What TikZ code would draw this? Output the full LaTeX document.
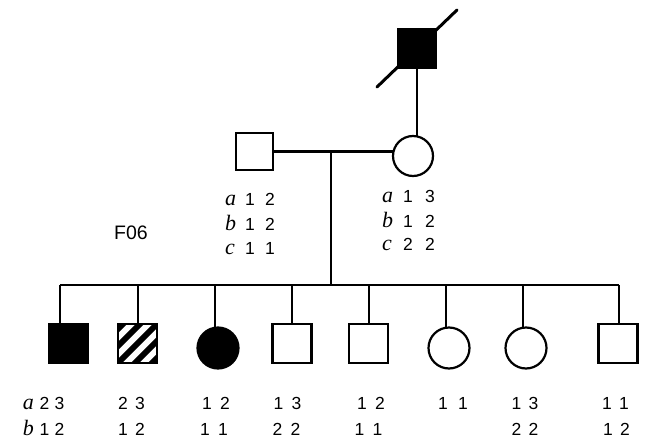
\documentclass[tikz,border=0pt]{standalone}
\usepackage{fontspec}
\setmainfont{Liberation Sans}
\newfontfamily\serifface{Liberation Serif}
\newcommand\glet[1]{\makebox[12pt][l]{\fontsize{22}{22}\selectfont\serifface\itshape #1}}
\newcommand\gpair[3][18pt]{\makebox[#1][c]{#2}\makebox[#1][c]{#3}}
\begin{document}
\begin{tikzpicture}[x=1pt,y=-1pt,
  lw/.style={line width=2.2pt},
  sq/.style={draw,rectangle,minimum size=39pt,inner sep=0pt,outer sep=0pt,line width=2.2pt},
  ci/.style={draw,circle,minimum size=41pt,inner sep=0pt,outer sep=0pt,line width=2.2pt},
  gt/.style={inner sep=0pt,outer sep=0pt,font=\fontsize{17.5}{17.5}\selectfont},
  affected/.style={fill=black}]
\useasboundingbox (0,0) rectangle (645,439);

% generation I
\node[sq,affected,minimum size=38pt] (gf) at (417,48.5) {};
\coordinate (sl1) at (377,87);
\coordinate (sl2) at (457,10);
\draw[line width=3pt,line cap=round] (sl1) -- (sl2);

% generation II
\node[sq,minimum size=37.5pt] (fa) at (254.5,151.5) {};
\node[ci,minimum size=40pt] (mo) at (413,156) {};
\draw[lw] (gf.south) -- (gf.south |- mo.north);
\draw[lw] (fa.east) -- (fa.east -| mo.west);
\coordinate (m) at (331,152);
\coordinate (s) at (331,285);
\draw[lw] (m) -- (s);

% parents' genotypes
\node[gt,anchor=base west] (fa1) at (225,205) {\glet{a}\hspace{3pt}\gpair[20pt]{1}{2}};
\node[gt,anchor=base west] (fa2) at (225,230) {\glet{b}\hspace{3pt}\gpair[20pt]{1}{2}};
\node[gt,anchor=base west] (fa3) at (225,254) {\glet{c}\hspace{3pt}\gpair[20pt]{1}{1}};
\node[gt,anchor=base west] (mo1) at (382,202) {\glet{a}\hspace{3pt}\gpair[22pt]{1}{3}};
\node[gt,anchor=base west] (mo2) at (382,227) {\glet{b}\hspace{3pt}\gpair[22pt]{1}{2}};
\node[gt,anchor=base west] (mo3) at (382,250) {\glet{c}\hspace{3pt}\gpair[22pt]{2}{2}};

\node[inner sep=0pt,anchor=base west,font=\fontsize{19.5}{19.5}\selectfont] (fam) at (114,239) {F06};

% sibship
\coordinate (d1) at (60,285);
\coordinate (d2) at (138,285);
\coordinate (d3) at (215,285);
\coordinate (d4) at (292,285);
\coordinate (d5) at (369,285);
\coordinate (d6) at (446,285);
\coordinate (d7) at (523,285);
\coordinate (d8) at (619,285);
\draw[lw] (d1) -- (d8);

% generation III
\node[sq,affected] (c1) at (68.5,343.5) {};
\node[sq] (c2) at (137.5,343.5) {};
\node[ci,affected] (c3) at (218,348) {};
\node[sq] (c4) at (292,343.5) {};
\node[sq] (c5) at (368.5,343.5) {};
\node[ci] (c6) at (449,348) {};
\node[ci] (c7) at (526,348) {};
\node[sq] (c8) at (618,343.5) {};

\begin{scope}
  \clip (c2.south west) rectangle (c2.north east);
  \foreach \k in {-51,-34,...,51} {
    \draw[line width=6pt,shift={(c2.center)}] (\k-35,35) -- (\k+35,-35);
  }
\end{scope}

\foreach \i in {1,...,8} {
  \draw[lw] (d\i) -- (d\i |- c\i.north);
}

% children's genotypes
\node[gt,anchor=base west] (g1a) at (23,409) {\glet{a}\hspace{2pt}\gpair[15pt]{2}{3}};
\node[gt,anchor=base west] (g1b) at (23,435) {\glet{b}\hspace{2pt}\gpair[15pt]{1}{2}};
\node[gt,anchor=base] (g2a) at (131.5,409) {\gpair[17pt]{2}{3}};
\node[gt,anchor=base] (g2b) at (131.5,435) {\gpair[17pt]{1}{2}};
\node[gt,anchor=base] (g3a) at (216,409) {\gpair{1}{2}};
\node[gt,anchor=base] (g3b) at (214,435) {\gpair{1}{1}};
\node[gt,anchor=base] (g4a) at (287.5,409) {\gpair{1}{3}};
\node[gt,anchor=base] (g4b) at (286.5,435) {\gpair{2}{2}};
\node[gt,anchor=base] (g5a) at (371,409) {\gpair{1}{2}};
\node[gt,anchor=base] (g5b) at (368.5,435) {\gpair{1}{1}};
\node[gt,anchor=base] (g6a) at (453,409) {\gpair[20pt]{1}{1}};
\node[gt,anchor=base] (g7a) at (525,409) {\gpair[17pt]{1}{3}};
\node[gt,anchor=base] (g7b) at (525,435) {\gpair[17pt]{2}{2}};
\node[gt,anchor=base] (g8a) at (615.5,409) {\gpair[17pt]{1}{1}};
\node[gt,anchor=base] (g8b) at (616.5,435) {\gpair[17pt]{1}{2}};
\end{tikzpicture}
\end{document}
